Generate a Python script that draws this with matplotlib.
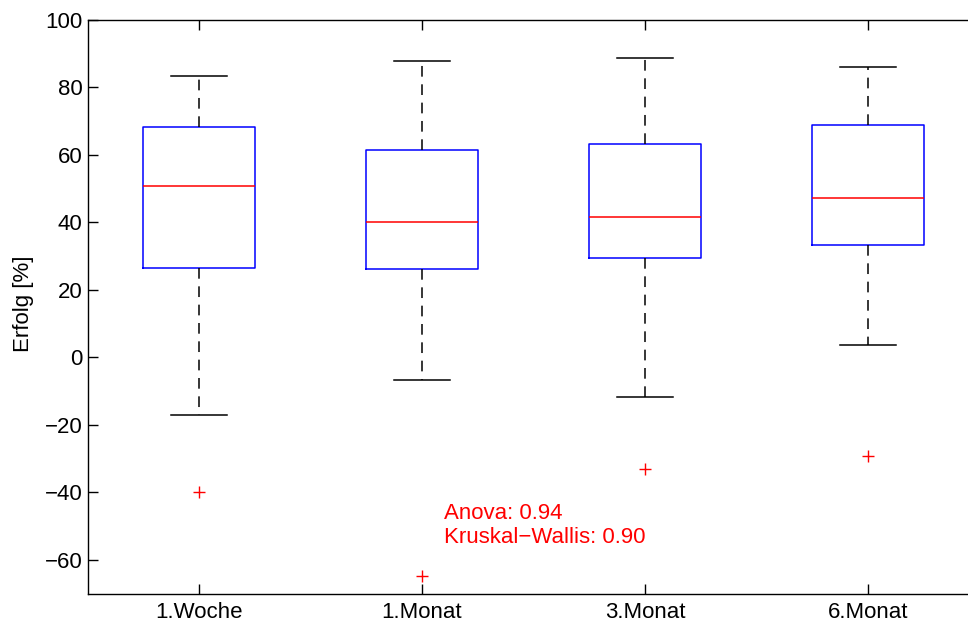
import matplotlib
matplotlib.use("Agg")
import matplotlib.pyplot as plt

plt.rcParams['font.family'] = ['Liberation Sans', 'DejaVu Sans']

labels = ['1.Woche', '1.Monat', '3.Monat', '6.Monat']
whisker_low = [-17.2, -6.8, -11.8, 3.6]
q1 = [26.6, 26.3, 29.4, 33.4]
median = [50.9, 40.2, 41.6, 47.3]
q3 = [68.4, 61.6, 63.3, 68.8]
whisker_high = [83.5, 87.7, 88.8, 86.0]
outliers = [[-40.0], [-64.9], [-33.2], [-29.3]]

stats = []
for i in range(len(labels)):
    stats.append({'label': labels[i], 'whislo': whisker_low[i], 'q1': q1[i],
                  'med': median[i], 'q3': q3[i], 'whishi': whisker_high[i],
                  'fliers': outliers[i]})

fig = plt.figure(figsize=(9.68, 6.25), dpi=100)
ax = fig.add_axes([87.5 / 968, 1 - 593.5 / 625, 892 / 968, 573.5 / 625])

ax.bxp(stats, positions=[1, 2, 3, 4], widths=0.5,
       boxprops=dict(color='blue', linewidth=1.1),
       medianprops=dict(color='red', linewidth=1.1),
       whiskerprops=dict(color='black', linestyle=(0, (7, 5)), linewidth=1.1),
       capprops=dict(color='black', linewidth=1.1),
       flierprops=dict(marker='+', markeredgecolor='red', markersize=8, linestyle='none'),
       capwidths=0.25)

ax.set_xlim(0.5, 4.5)
ax.set_ylim(-70, 100)
ax.set_yticks(range(-60, 101, 20))
ax.set_xticks([1, 2, 3, 4])
ax.set_xticklabels(labels)
ax.tick_params(direction='in', top=True, right=True, length=7, labelsize=16, width=1)
ax.tick_params(axis='x', pad=6)
for s in ax.spines.values():
    s.set_linewidth(1)
ax.set_ylabel('Erfolg [%]', fontsize=16)
ax.yaxis.set_label_coords(-0.06, 0.505)

ax.text(2.1, -46.4, 'Anova: 0.94', color='red', fontsize=16, va='center')
ax.text(2.1, -53.5, 'Kruskal\u2212Wallis: 0.90', color='red', fontsize=16, va='center')

fig.savefig('out.png', dpi=100)
